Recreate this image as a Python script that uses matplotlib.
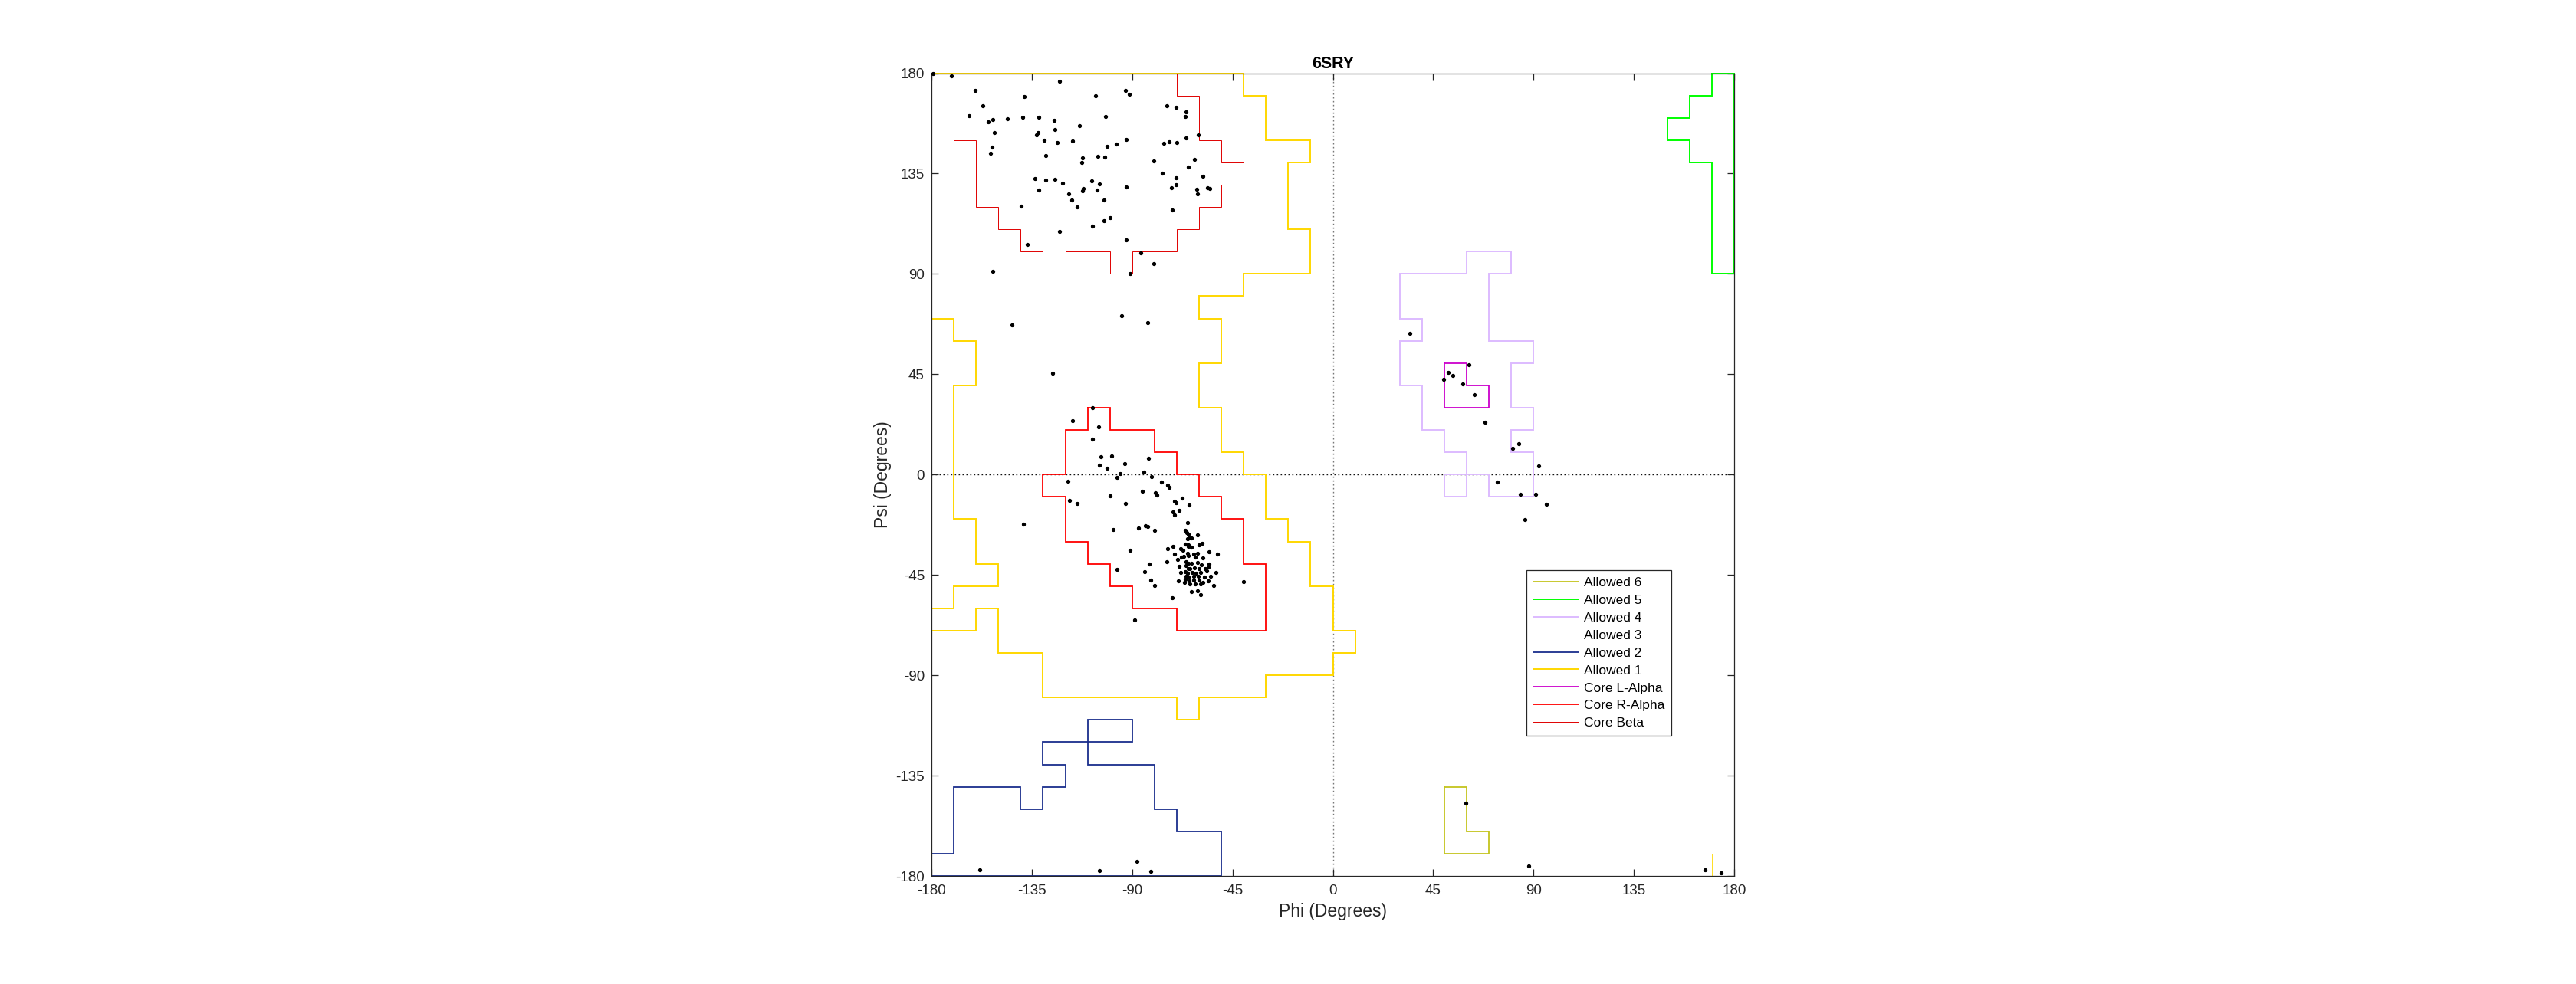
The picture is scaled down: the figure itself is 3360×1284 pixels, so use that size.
import matplotlib
matplotlib.use("Agg")
import matplotlib.pyplot as plt

plt.rcParams['font.family'] = ['Liberation Sans', 'DejaVu Sans']

# ---------------- data ----------------
title_text = "6SRY"
x_label = "Phi (Degrees)"
y_label = "Psi (Degrees)"
tick_values = [-180, -135, -90, -45, 0, 45, 90, 135, 180]

region_names = ["Allowed 6", "Allowed 5", "Allowed 4", "Allowed 3", "Allowed 2",
                "Allowed 1", "Core L-Alpha", "Core R-Alpha", "Core Beta"]

allowed6 = [(50, -140), (60, -140), (60, -160), (70, -160), (70, -170), (50, -170), (50, -140)]

allowed5 = [(170, 180), (170, 170), (160, 170), (160, 160), (150, 160), (150, 150), (160, 150),
            (160, 140), (170, 140), (170, 90), (180, 90), (180, 180), (170, 180)]

allowed4 = [(60, 100), (80, 100), (80, 90), (70, 90), (70, 60), (90, 60), (90, 50), (80, 50),
            (80, 30), (90, 30), (90, 20), (80, 20), (80, 10), (90, 10), (90, -10), (70, -10),
            (70, 0), (50, 0), (50, -10), (60, -10), (60, 10), (50, 10), (50, 20), (40, 20),
            (40, 40), (30, 40), (30, 60), (40, 60), (40, 70), (30, 70), (30, 90), (60, 90),
            (60, 100)]

allowed3 = [(170, -180), (170, -170), (180, -170)]

allowed2 = [(-180, -170), (-170, -170), (-170, -140), (-140, -140), (-140, -150), (-130, -150),
            (-130, -140), (-120, -140), (-120, -130), (-130, -130), (-130, -120), (-90, -120),
            (-90, -110), (-110, -110), (-110, -130), (-80, -130), (-80, -150), (-70, -150),
            (-70, -160), (-50, -160), (-50, -180), (-180, -180), (-180, -170)]

allowed1 = [(-180, -60), (-170, -60), (-170, -50), (-150, -50), (-150, -40), (-160, -40),
            (-160, -20), (-170, -20), (-170, 40), (-160, 40), (-160, 60), (-170, 60),
            (-170, 70), (-180, 70), (-180, 180), (-40, 180), (-40, 170), (-30, 170),
            (-30, 150), (-10, 150), (-10, 140), (-20, 140), (-20, 110), (-10, 110),
            (-10, 90), (-40, 90), (-40, 80), (-60, 80), (-60, 70), (-50, 70), (-50, 50),
            (-60, 50), (-60, 30), (-50, 30), (-50, 10), (-40, 10), (-40, 0), (-30, 0),
            (-30, -20), (-20, -20), (-20, -30), (-10, -30), (-10, -50), (0, -50), (0, -70),
            (10, -70), (10, -80), (0, -80), (0, -90), (-30, -90), (-30, -100), (-60, -100),
            (-60, -110), (-70, -110), (-70, -100), (-130, -100), (-130, -80), (-150, -80),
            (-150, -60), (-160, -60), (-160, -70), (-180, -70)]

core_l_alpha = [(50, 50), (60, 50), (60, 40), (70, 40), (70, 30), (50, 30), (50, 50)]

core_r_alpha = [(-110, 30), (-100, 30), (-100, 20), (-80, 20), (-80, 10), (-70, 10), (-70, 0),
                (-60, 0), (-60, -10), (-50, -10), (-50, -20), (-40, -20), (-40, -40), (-30, -40),
                (-30, -70), (-70, -70), (-70, -60), (-90, -60), (-90, -50), (-100, -50),
                (-100, -40), (-110, -40), (-110, -30), (-120, -30), (-120, -10), (-130, -10),
                (-130, 0), (-120, 0), (-120, 20), (-110, 20), (-110, 30)]

core_beta = [(-170, 180), (-170, 150), (-160, 150), (-160, 120), (-150, 120), (-150, 110),
             (-140, 110), (-140, 100), (-130, 100), (-130, 90), (-120, 90), (-120, 100),
             (-100, 100), (-100, 90), (-90, 90), (-90, 100), (-70, 100), (-70, 110),
             (-60, 110), (-60, 120), (-50, 120), (-50, 130), (-40, 130), (-40, 140),
             (-50, 140), (-50, 150), (-60, 150), (-60, 170), (-70, 170), (-70, 180)]

phi = [-179.3, -171.1, -160.4, -138.5, -122.7, -106.5, -93.1, -91.4, -157.0, -163.1,
       -154.5, -152.4, -146.1, -139.2, -132.0, -125.0, -102.0, -74.5, -70.4, -65.8,
       -66.1, -151.7, -133.0, -132.2, -124.6, -113.5, -129.5, -123.6, -116.6, -92.5,
       -97.2, -101.1, -75.8, -73.3, -69.8, -66.0, -60.4, -153.0, -153.6, -128.7,
       -112.4, -112.5, -105.3, -102.4, -80.4, -62.2, -64.8, -76.5, -133.7, -128.6,
       -124.6, -121.2, -108.0, -104.7, -92.6, -70.2, -70.4, -58.3, -72.3, -61.0,
       -60.7, -56.1, -55.3, -131.8, -118.6, -112.4, -111.8, -105.6, -117.0, -102.6,
       -114.6, -139.6, -72.0, -102.7, -99.9, -107.7, -122.7, -137.1, -92.6, -86.3,
       -80.3, -90.9, -152.6, -94.6, -83.1, -143.9,
       -125.8, -107.7, -116.9, -105.2, -107.8, -103.9, -99.3, -104.7, -101.1, -93.5,
       -82.6, -84.6, -95.4, -96.9, -81.2, -118.7, -77.0, -74.0, -73.3, -118.1,
       -114.8, -100.0, -85.6, -79.6, -78.9, -92.9, -67.5, -70.9, -70.4, -64.4,
       -71.7, -69.0, -70.9, -138.9, -98.4, -87.0, -84.2, -83.1, -90.9, -82.4,
       -96.9, -84.3, -81.7, -80.1, -40.2, -88.8,
       -65.1, -80.0, -66.2, -65.5, -64.7, -64.5, -65.1, -60.8, -63.3, -71.8,
       -74.1, -66.3, -64.9, -64.7, -63.3, -59.9, -58.5, -68.4, -67.2, -70.9,
       -67.9, -67.0, -65.0, -64.7, -62.4, -61.7, -60.6, -58.3, -55.5, -51.9,
       -69.7, -74.3, -65.8, -64.7, -63.3, -60.7, -59.0, -55.5, -69.0, -65.8,
       -64.9, -64.0, -62.2, -60.1, -57.2, -56.0, -68.4, -66.3, -65.1, -63.0,
       -61.5, -59.4, -56.4, -52.4, -65.8, -64.7, -62.4, -60.3, -57.6, -54.8,
       -69.3, -66.3, -64.5, -62.4, -60.1, -55.8, -66.5, -64.0, -61.8, -59.2,
       -58.2, -53.5, -63.5, -60.8, -59.4, -72.1,
       34.7, 60.9, 51.9, 53.9, 49.8, 58.4, 63.3, 68.3, 83.3, 80.5,
       92.4, 73.9, 84.2, 90.9, 95.6, 86.1,
       59.8, 87.9, 167.1, 174.0,
       -158.3, -104.8, -88.0, -81.8]

psi = [180.0, 178.9, 172.3, 169.5, 176.4, 169.7, 172.3, 170.7, 165.4, 160.9,
       158.2, 159.1, 159.7, 160.2, 160.2, 158.7, 160.5, 165.3, 164.7, 162.6,
       160.6, 153.3, 152.2, 153.4, 154.7, 156.6, 150.0, 148.9, 149.5, 150.2,
       148.2, 147.1, 148.5, 149.4, 148.9, 151.1, 152.2, 146.7, 144.1, 143.0,
       142.1, 139.8, 142.6, 142.3, 140.6, 141.5, 137.9, 135.2, 132.9, 132.1,
       132.5, 130.7, 131.7, 130.3, 129.1, 133.1, 130.1, 133.9, 128.5, 127.8,
       125.7, 128.5, 128.3, 127.5, 125.7, 127.4, 128.2, 127.5, 123.0, 123.0,
       120.1, 120.3, 118.5, 114.0, 115.1, 111.5, 109.1, 103.3, 105.1, 99.4,
       94.5, 90.2, 91.3, 71.1, 68.0, 67.1,
       45.4, 29.9, 24.2, 21.3, 16.0, 7.9, 8.2, 4.3, 2.7, 4.8,
       7.3, 1.2, 0.3, -1.2, -1.1, -3.1, -3.5, -4.6, -5.9, -11.5,
       -13.0, -9.6, -7.6, -8.3, -9.1, -13.0, -10.4, -12.0, -12.7, -13.7,
       -16.7, -16.0, -18.3, -22.3, -24.8, -24.1, -23.1, -23.2, -33.8, -40.2,
       -42.6, -43.4, -47.4, -49.8, -48.0, -65.1,
       -21.6, -25.1, -25.1, -26.0, -26.6, -28.0, -28.8, -27.1, -28.5, -32.2,
       -33.4, -31.2, -31.5, -32.3, -32.5, -31.5, -30.8, -33.1, -34.0, -35.7,
       -36.9, -36.6, -35.2, -36.3, -35.7, -36.9, -35.2, -37.5, -34.6, -35.7,
       -38.0, -39.1, -39.2, -39.8, -39.8, -39.5, -40.3, -40.0, -41.2, -40.9,
       -42.1, -42.3, -41.7, -42.3, -42.1, -41.5, -43.9, -43.4, -44.4, -43.8,
       -44.1, -43.9, -43.2, -43.9, -45.7, -46.1, -45.5, -45.7, -46.1, -45.5,
       -47.6, -46.9, -47.8, -47.4, -47.2, -47.8, -48.5, -49.0, -49.2, -49.0,
       -48.4, -49.7, -52.4, -52.2, -53.9, -55.3,
       63.2, 49.3, 45.9, 44.5, 42.8, 40.7, 35.7, 23.6, 14.0, 11.7,
       3.9, -3.4, -9.0, -8.9, -13.4, -20.1,
       -147.2, -175.5, -177.1, -178.7,
       -177.3, -177.5, -173.5, -178.1]

# ---------------- styles ----------------
regions = [allowed6, allowed5, allowed4, allowed3, allowed2, allowed1,
           core_l_alpha, core_r_alpha, core_beta]
colors = ["#C4C41E", "#00FF00", "#DDBBFF", "#FFDD22", "#1A2E8C", "#FFD700",
          "#CC00CC", "#FF0000", "#E00000"]
widths = [1.3, 1.4, 1.4, 0.7, 1.3, 1.4, 1.3, 1.3, 0.7]

text_color = "#262626"

fig = plt.figure(figsize=(33.6, 12.84), dpi=100)
ax = fig.add_axes([1215 / 3360, (1284 - 1143) / 1284, 1047 / 3360, 1047.5 / 1284])

# dotted zero lines
ax.axhline(0, color="#111111", linestyle=(0, (1.2, 2.4)), linewidth=1.0, zorder=1)
ax.axvline(0, color="#777777", linestyle=(0, (1.2, 2.4)), linewidth=1.0, zorder=1)

handles = []
for name, verts, c, w in zip(region_names, regions, colors, widths):
    xs = [v[0] for v in verts]
    ys = [v[1] for v in verts]
    h, = ax.plot(xs, ys, color=c, linewidth=w, label=name, zorder=2,
                 solid_joinstyle="miter", clip_on=False)
    handles.append(h)

ax.plot(phi, psi, linestyle="none", marker="o", markersize=2.8,
        markerfacecolor="black", markeredgecolor="black", zorder=4, clip_on=False)

ax.set_xlim(-180, 180)
ax.set_ylim(-180, 180)
ax.set_xticks(tick_values)
ax.set_yticks(tick_values)
ax.set_xticklabels([str(t) for t in tick_values])
ax.set_yticklabels([str(t) for t in tick_values])

for sp in ax.spines.values():
    sp.set_color(text_color)
    sp.set_linewidth(0.9)
    sp.set_zorder(3)

ax.tick_params(axis="both", which="major", direction="in", length=6.5, width=0.9,
               colors=text_color, labelsize=13.5, top=True, right=True)
ax.tick_params(axis="x", pad=8)
ax.tick_params(axis="y", pad=6.5)

ax.set_xlabel(x_label, fontsize=16.5, color=text_color, labelpad=5)
ax.set_ylabel(y_label, fontsize=16.5, color=text_color, labelpad=4)
ax.set_title(title_text, fontsize=15.5, fontweight="bold", color="black", pad=5)

leg = ax.legend(handles=handles, loc="upper left", bbox_to_anchor=(0.741, 0.381),
                borderaxespad=0, fontsize=12.5, frameon=True, fancybox=False,
                framealpha=1, edgecolor=text_color, handlelength=3.45,
                handletextpad=0.4, labelspacing=0.45, borderpad=0.5)
leg.get_frame().set_linewidth(0.9)
leg.set_zorder(5)

fig.savefig("out.png", dpi=100, facecolor="white")
